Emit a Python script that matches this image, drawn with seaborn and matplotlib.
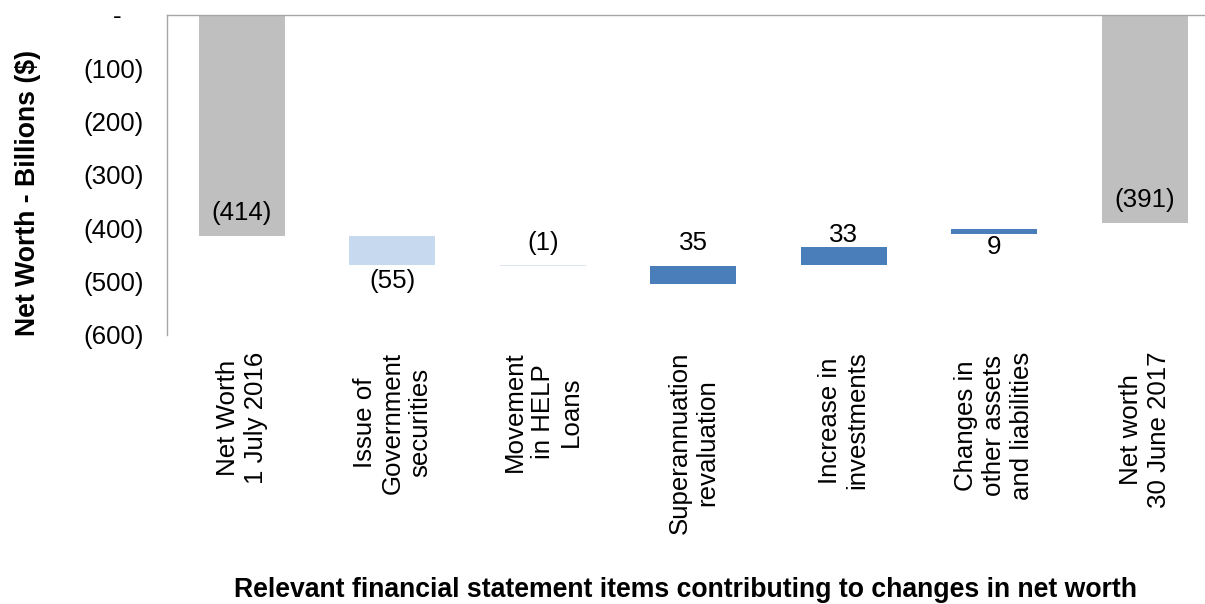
import matplotlib
matplotlib.use("Agg")
import matplotlib.pyplot as plt
import seaborn as sns
import pandas as pd

# Waterfall of net worth movements, 2016-17 (billions of dollars)
categories = [
    "Net Worth\n1 July 2016",
    "Issue of\nGovernment\nsecurities",
    "Movement\nin HELP\nLoans",
    "Superannuation\nrevaluation",
    "Increase in\ninvestments",
    "Changes in\nother assets\nand liabilities",
    "Net worth\n30 June 2017",
]
bar_bottoms = [0, -414, -469, -470, -469, -410, 0]
bar_heights = [-414, -55, -1, -35, 33, 9, -391]
value_labels = ["(414)", "(55)", "(1)", "35", "33", "9", "(391)"]
y_ticks = [0, -100, -200, -300, -400, -500, -600]
y_tick_labels = ["-\u2007\u2008", "(100)", "(200)", "(300)", "(400)", "(500)", "(600)"]

bar_colors = ["#bfbfbf", "#c6d9ee", "#dce6f2", "#4a7ebb", "#4a7ebb", "#4a7ebb", "#bfbfbf"]
# label anchor: end of the bar ("end") or its base ("base"), and offset in points
label_anchor = ["end", "end", "base", "base", "end", "base", "end"]
label_offset = [16.5, -11.5, 16, 16, 8.6, -9.6, 16.5]

sns.set_style("white")
plt.rcParams["font.family"] = ["Liberation Sans", "DejaVu Sans"]
plt.rcParams["text.color"] = "black"
plt.rcParams["xtick.color"] = "black"
plt.rcParams["ytick.color"] = "black"
FS = 18.6
TITLE_FS = 19.2

df = pd.DataFrame({"item": categories, "change": bar_heights})

fig = plt.figure(figsize=(12.05, 6.04), dpi=100)
ax = fig.add_axes([0.1383, 0.4454, 0.8741, 0.5303])

sns.barplot(data=df, x="item", y="change", bottom=bar_bottoms, width=0.571,
            color="#bfbfbf", linewidth=0, saturation=1, errorbar=None, ax=ax)
for patch, c in zip(ax.patches, bar_colors):
    patch.set_facecolor(c)
    patch.set_edgecolor(c)

for i, (b, h, txt) in enumerate(zip(bar_bottoms, bar_heights, value_labels)):
    y = b + h if label_anchor[i] == "end" else b
    ax.annotate(txt, xy=(i, y), xytext=(0, label_offset[i]), textcoords="offset points",
                ha="center", va="center", fontsize=FS, color="black")

ax.set_xlim(-0.5, 6.5)
ax.set_ylim(-600, 0)
ax.set_yticks(y_ticks)
ax.set_yticklabels(y_tick_labels, fontsize=FS, color="black")
ax.set_xticks(range(len(categories)))
ax.set_xticklabels(categories, rotation=90, fontsize=FS, ha="center", va="top",
                   multialignment="center", color="black")
ax.tick_params(axis="y", length=0, pad=16.5, labelcolor="black")
ax.tick_params(axis="x", length=0, pad=12, labelcolor="black")
ax.set_xlabel("")
ax.set_ylabel("")

for side in ["bottom", "right"]:
    ax.spines[side].set_visible(False)
for side in ["top", "left"]:
    ax.spines[side].set_visible(True)
    ax.spines[side].set_color("#a6a6a6")
    ax.spines[side].set_linewidth(1.0)

fig.text(28 / 1205, 0.681, "Net Worth - Billions ($)", rotation=90, ha="center",
         va="center", fontsize=TITLE_FS, fontweight="bold", color="black")
fig.text(0.569, 7 / 604, "Relevant financial statement items contributing to changes in net worth",
         ha="center", va="baseline", fontsize=TITLE_FS, fontweight="bold", color="black")

fig.savefig("out.png", dpi=100)
